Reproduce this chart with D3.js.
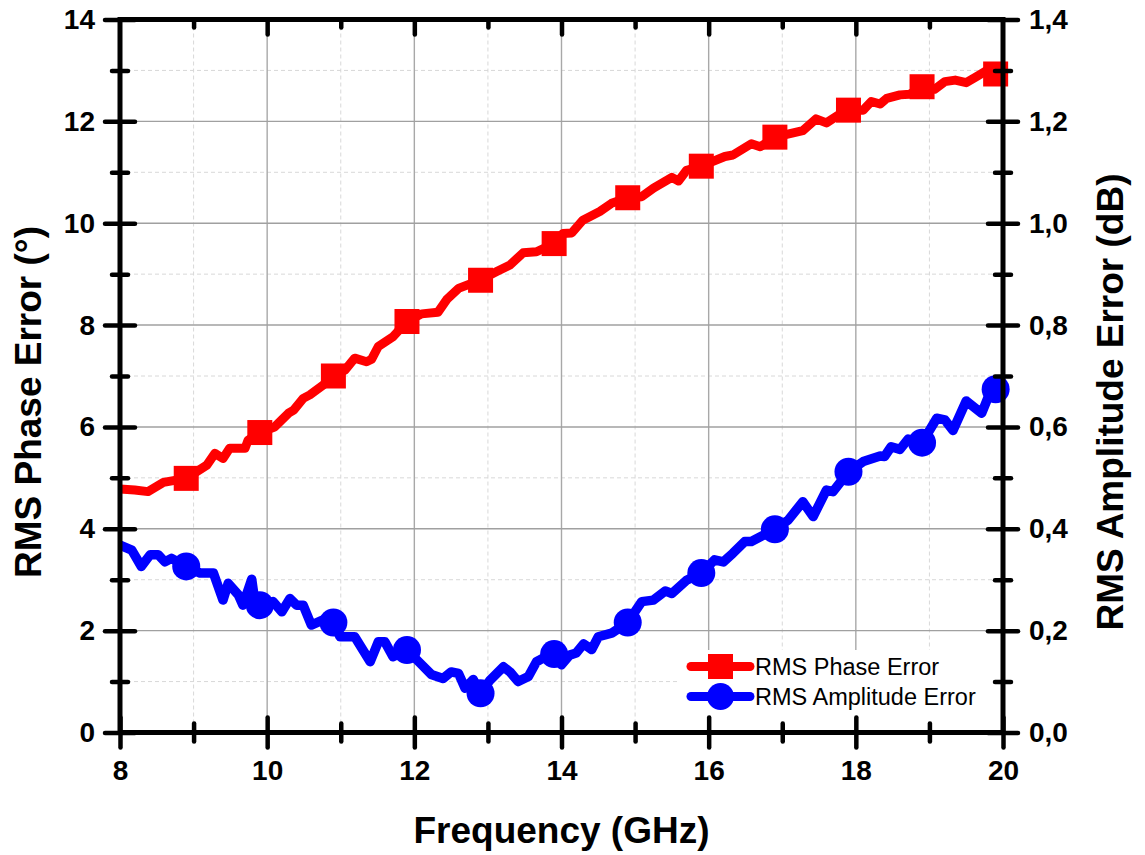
<!DOCTYPE html>
<html>
<head>
<meta charset="utf-8">
<script src="https://cdn.jsdelivr.net/npm/d3@7/dist/d3.min.js"></script>
<style>
  html, body { margin: 0; padding: 0; background: #ffffff; }
  svg { display: block; font-family: "Liberation Sans", Arial, sans-serif; }
</style>
</head>
<body>
<svg id="chart" width="1145" height="855"></svg>
<script>
// RMS phase error (deg)
const phaseFreq = [8.0, 8.2, 8.38, 8.59, 8.9, 9.18, 9.29, 9.4, 9.49, 9.7, 9.74, 9.9, 10.1, 10.29, 10.36, 10.49, 10.58, 10.76, 10.9,
    11.06, 11.19, 11.35, 11.42, 11.51, 11.71, 11.9, 12.1, 12.32, 12.44, 12.6, 12.89, 13.12, 13.3, 13.48, 13.66, 13.9,
    14.02, 14.14, 14.29, 14.52, 14.68, 14.9, 15.09, 15.25, 15.5, 15.59, 15.7, 15.9, 16.22, 16.33, 16.58, 16.7, 16.9,
    17.28, 17.46, 17.6, 17.78, 17.9, 18.1, 18.21, 18.33, 18.42, 18.6, 18.73, 18.9, 19.07, 19.21, 19.35, 19.5, 19.64,
    19.77, 19.9, 20.0];
const phaseVal = [4.78, 4.76, 4.73, 4.91, 4.99, 5.25, 5.48, 5.38, 5.58, 5.58, 5.74, 5.89, 6.0, 6.27, 6.33, 6.56, 6.63, 6.82, 7.0,
    7.12, 7.35, 7.28, 7.33, 7.58, 7.77, 8.07, 8.22, 8.25, 8.5, 8.72, 8.88, 9.05, 9.18, 9.42, 9.44, 9.6,
    9.8, 9.81, 10.06, 10.23, 10.39, 10.5, 10.52, 10.69, 10.9, 10.83, 11.04, 11.12, 11.31, 11.34, 11.56, 11.5, 11.69,
    11.82, 12.05, 11.97, 12.14, 12.22, 12.22, 12.39, 12.34, 12.45, 12.52, 12.53, 12.68, 12.63, 12.78, 12.81, 12.76, 12.88,
    12.99, 12.93, 13.0];

// RMS amplitude error (dB)
const ampFreq = [8.0, 8.16, 8.29, 8.41, 8.52, 8.61, 8.7, 8.9, 9.09, 9.27, 9.4, 9.47, 9.61, 9.67, 9.79, 9.83, 9.9,
    10.08, 10.2, 10.31, 10.4, 10.49, 10.6, 10.76, 10.9, 10.99, 11.19, 11.4, 11.51, 11.6, 11.71, 11.9,
    12.08, 12.23, 12.39, 12.5, 12.6, 12.69, 12.8, 12.9, 13.03, 13.21, 13.3, 13.41, 13.55, 13.66, 13.75, 13.9,
    14.0, 14.11, 14.2, 14.3, 14.41, 14.5, 14.68, 14.9, 15.09, 15.25, 15.41, 15.5, 15.7, 15.9,
    16.08, 16.2, 16.33, 16.49, 16.58, 16.9, 17.08, 17.28, 17.42, 17.6, 17.69, 17.9,
    18.1, 18.33, 18.39, 18.48, 18.6, 18.71, 18.9, 19.1, 19.21, 19.32, 19.5, 19.71, 19.8, 19.9, 20.0];
const ampVal = [0.368, 0.358, 0.326, 0.349, 0.349, 0.335, 0.342, 0.326, 0.313, 0.313, 0.26, 0.293, 0.27, 0.25, 0.301, 0.26, 0.25,
    0.257, 0.237, 0.263, 0.25, 0.25, 0.211, 0.221, 0.216, 0.188, 0.188, 0.139, 0.178, 0.178, 0.149, 0.162,
    0.136, 0.114, 0.106, 0.119, 0.116, 0.087, 0.104, 0.077, 0.103, 0.129, 0.119, 0.1, 0.11, 0.139, 0.146, 0.154,
    0.133, 0.152, 0.156, 0.174, 0.163, 0.188, 0.195, 0.216, 0.257, 0.26, 0.278, 0.273, 0.299, 0.313,
    0.339, 0.335, 0.352, 0.375, 0.375, 0.399, 0.417, 0.453, 0.424, 0.476, 0.473, 0.512,
    0.532, 0.543, 0.542, 0.561, 0.556, 0.576, 0.569, 0.617, 0.614, 0.593, 0.651, 0.627, 0.659, 0.674, 0.685];

// symbol positions
const markerFreq = [8.9, 9.9, 10.9, 11.9, 12.9, 13.9, 14.9, 15.9, 16.9, 17.9, 18.9, 19.9];
const phaseMarkers = [4.99, 5.89, 7.0, 8.07, 8.88, 9.6, 10.5, 11.12, 11.69, 12.22, 12.68, 12.93];
const ampMarkers = [0.326, 0.25, 0.216, 0.162, 0.077, 0.154, 0.216, 0.313, 0.399, 0.512, 0.569, 0.674];

// ticks
const xMajor = [8, 10, 12, 14, 16, 18, 20];
const xMinor = [9, 11, 13, 15, 17, 19];
const yMajor = [0, 2, 4, 6, 8, 10, 12, 14];
const yMinor = [1, 3, 5, 7, 9, 11, 13];
const y2Major = [0, 0.2, 0.4, 0.6, 0.8, 1.0, 1.2, 1.4];
const y2Minor = [0.1, 0.3, 0.5, 0.7, 0.9, 1.1, 1.3];

const seriesNames = ["RMS Phase Error", "RMS Amplitude Error"];
const seriesColors = ["#ff0000", "#0000ff"];

const plotL = 120, plotR = 1003, plotT = 19.5, plotB = 732.5;

const svg = d3.select("#chart");

const x = d3.scaleLinear().domain([8, 20]).range([plotL, plotR]);
const y = d3.scaleLinear().domain([0, 14]).range([plotB, plotT]);
const y2 = d3.scaleLinear().domain([0, 1.4]).range([plotB, plotT]);

// grid
const grid = svg.append("g");
grid.selectAll(".gxm").data(xMinor).enter().append("line")
    .attr("x1", d => x(d)).attr("x2", d => x(d)).attr("y1", plotT).attr("y2", plotB)
    .attr("stroke", "#d8d8d8").attr("stroke-width", 1).attr("stroke-dasharray", "4,3");
grid.selectAll(".gym").data(yMinor).enter().append("line")
    .attr("x1", plotL).attr("x2", plotR).attr("y1", d => y(d)).attr("y2", d => y(d))
    .attr("stroke", "#d8d8d8").attr("stroke-width", 1).attr("stroke-dasharray", "4,3");
grid.selectAll(".gx").data(xMajor.slice(1, -1)).enter().append("line")
    .attr("x1", d => x(d)).attr("x2", d => x(d)).attr("y1", plotT).attr("y2", plotB)
    .attr("stroke", "#a8a8a8").attr("stroke-width", 1.4);
grid.selectAll(".gy").data(yMajor.slice(1, -1)).enter().append("line")
    .attr("x1", plotL).attr("x2", plotR).attr("y1", d => y(d)).attr("y2", d => y(d))
    .attr("stroke", "#a0a0a0").attr("stroke-width", 1.4);

// legend background hides the grid
svg.append("rect").attr("x", 680).attr("y", 650).attr("width", 320).attr("height", 80).attr("fill", "#ffffff");

// curves
const phaseData = phaseFreq.map((f, i) => ({ f, v: phaseVal[i] }));
const ampData = ampFreq.map((f, i) => ({ f, v: ampVal[i] }));

svg.append("path")
    .datum(phaseData)
    .attr("fill", "none")
    .attr("stroke", seriesColors[0])
    .attr("stroke-width", 9)
    .attr("stroke-linejoin", "round")
    .attr("d", d3.line().x(d => x(d.f)).y(d => y(d.v)));

svg.append("path")
    .datum(ampData)
    .attr("fill", "none")
    .attr("stroke", seriesColors[1])
    .attr("stroke-width", 9.5)
    .attr("stroke-linejoin", "round")
    .attr("d", d3.line().x(d => x(d.f)).y(d => y2(d.v)));

const sq = 25;
svg.selectAll(".sq").data(markerFreq).enter().append("rect")
    .attr("x", d => x(d) - sq / 2)
    .attr("y", (d, i) => y(phaseMarkers[i]) - sq / 2)
    .attr("width", sq).attr("height", sq)
    .attr("fill", seriesColors[0]);

svg.selectAll(".ci").data(markerFreq).enter().append("circle")
    .attr("cx", d => x(d))
    .attr("cy", (d, i) => y2(ampMarkers[i]))
    .attr("r", 14)
    .attr("fill", seriesColors[1]);

// axes
const fmtComma = d => d3.format(".1f")(d).replace(".", ",");

function styleAxis(g, inner, size) {
    g.select(".domain").remove();
    g.selectAll(".tick line")
        .attr("stroke", "#000").attr("stroke-width", 4.5).attr("stroke-linecap", "round");
    g.selectAll(".tick text")
        .attr("fill", "#000").style("font-size", "28px").style("font-weight", "bold");
    if (inner) g.selectAll(".tick line").attr(inner, size);
}

// major + minor ticks on each side
const axLeft = svg.append("g").attr("transform", `translate(${plotL},0)`)
    .call(d3.axisLeft(y).tickValues(yMajor).tickSize(15).tickPadding(10));
styleAxis(axLeft, "x1", 15);
const axLeftMin = svg.append("g").attr("transform", `translate(${plotL},0)`)
    .call(d3.axisLeft(y).tickValues(yMinor).tickSize(8).tickFormat(""));
styleAxis(axLeftMin, "x1", 8);

const axRight = svg.append("g").attr("transform", `translate(${plotR},0)`)
    .call(d3.axisRight(y2).tickValues(y2Major).tickSize(15).tickPadding(11).tickFormat(fmtComma));
styleAxis(axRight, "x1", -15);
const axRightMin = svg.append("g").attr("transform", `translate(${plotR},0)`)
    .call(d3.axisRight(y2).tickValues(y2Minor).tickSize(8).tickFormat(""));
styleAxis(axRightMin, "x1", -8);

const axBottom = svg.append("g").attr("transform", `translate(0,${plotB})`)
    .call(d3.axisBottom(x).tickValues(xMajor).tickSize(15).tickPadding(13));
styleAxis(axBottom, "y1", -15);
const axBottomMin = svg.append("g").attr("transform", `translate(0,${plotB})`)
    .call(d3.axisBottom(x).tickValues(xMinor).tickSize(9).tickFormat(""));
styleAxis(axBottomMin, "y1", -9);

const axTop = svg.append("g").attr("transform", `translate(0,${plotT})`)
    .call(d3.axisTop(x).tickValues(xMajor.slice(1, -1)).tickSize(-15).tickFormat(""));
styleAxis(axTop);
const axTopMin = svg.append("g").attr("transform", `translate(0,${plotT})`)
    .call(d3.axisTop(x).tickValues(xMinor).tickSize(-8).tickFormat(""));
styleAxis(axTopMin);

// frame
svg.append("rect")
    .attr("x", plotL).attr("y", plotT)
    .attr("width", plotR - plotL).attr("height", plotB - plotT)
    .attr("fill", "none").attr("stroke", "#000").attr("stroke-width", 5);

// axis titles
svg.append("text")
    .attr("x", (plotL + plotR) / 2).attr("y", 843)
    .attr("text-anchor", "middle")
    .style("font-size", "37px").style("font-weight", "bold")
    .text("Frequency (GHz)");

svg.append("text")
    .attr("transform", "translate(41,402) rotate(-90)")
    .attr("text-anchor", "middle")
    .style("font-size", "37px").style("font-weight", "bold")
    .text("RMS Phase Error (°)");

svg.append("text")
    .attr("transform", "translate(1123,402) rotate(-90)")
    .attr("text-anchor", "middle")
    .style("font-size", "37px").style("font-weight", "bold")
    .text("RMS Amplitude Error (dB)");

// legend
const legendY = [666.5, 696.5];
const legend = svg.append("g");
seriesNames.forEach((name, i) => {
    legend.append("line")
        .attr("x1", 691).attr("x2", 750).attr("y1", legendY[i]).attr("y2", legendY[i])
        .attr("stroke", seriesColors[i]).attr("stroke-width", 9).attr("stroke-linecap", "round");
    if (i === 0) {
        legend.append("rect")
            .attr("x", 720.5 - sq / 2).attr("y", legendY[i] - sq / 2)
            .attr("width", sq).attr("height", sq).attr("fill", seriesColors[i]);
    } else {
        legend.append("circle")
            .attr("cx", 720.5).attr("cy", legendY[i]).attr("r", 13.5).attr("fill", seriesColors[i]);
    }
    legend.append("text")
        .attr("x", 755).attr("y", legendY[i] + 8.5)
        .style("font-size", "23.5px")
        .text(name);
});
</script>
</body>
</html>
